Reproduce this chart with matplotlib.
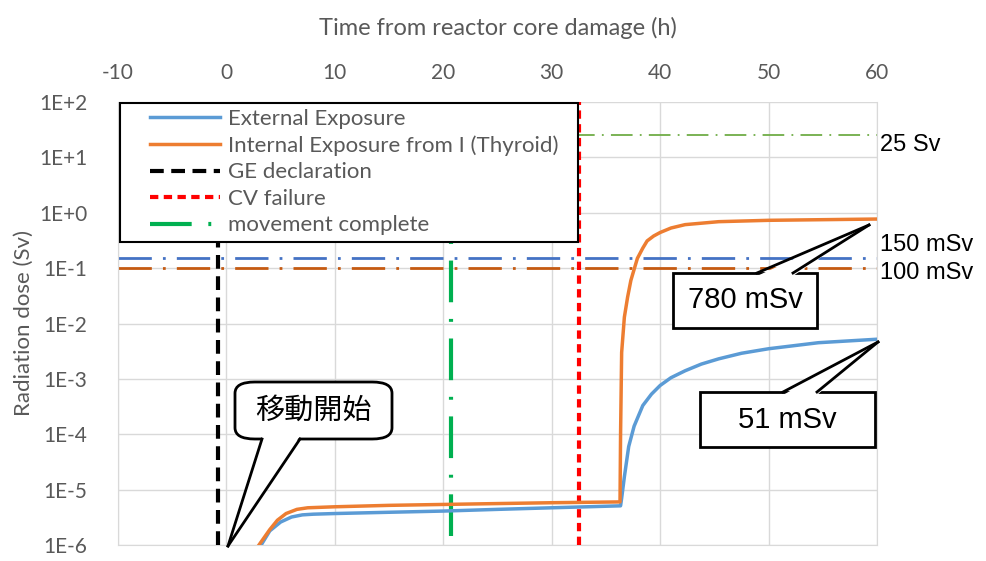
import matplotlib
matplotlib.use("Agg")
import matplotlib.pyplot as plt
from matplotlib.patches import FancyBboxPatch, Polygon, Rectangle
from matplotlib.lines import Line2D
import numpy as np

plt.rcParams["axes.unicode_minus"] = False

# data
t_ext = [3.2, 4, 5, 6, 7, 8, 10, 15, 20, 25, 30, 36.35, 36.45, 36.7, 37.1, 37.6, 38.4,
         39.2, 40, 41, 42.3, 43.8, 45.4, 47.5, 50, 54.6, 60]
dose_ext = [1e-6, 1.8e-6, 2.6e-6, 3.2e-6, 3.5e-6, 3.6e-6, 3.7e-6, 3.9e-6, 4.1e-6,
            4.4e-6, 4.7e-6, 5.1e-6, 7e-6, 1.7e-5, 6e-5, 1.4e-4, 3.3e-4, 5.3e-4, 7.6e-4,
            1.05e-3, 1.4e-3, 1.85e-3, 2.3e-3, 2.9e-3, 3.5e-3, 4.5e-3, 5.2e-3]

t_int = [3.0, 4, 4.7, 5.5, 6.5, 7.5, 10, 15, 20, 25, 30, 36.3, 36.35, 36.45, 36.7,
         37.0, 37.3, 37.9, 38.4, 38.8, 39.4, 40, 41, 42.3, 45.4, 50, 60]
dose_int = [1e-6, 1.9e-6, 2.8e-6, 3.7e-6, 4.4e-6, 4.7e-6, 4.9e-6, 5.2e-6, 5.4e-6,
            5.6e-6, 5.8e-6, 6.0e-6, 1e-4, 3e-3, 0.013, 0.03, 0.06, 0.15, 0.23, 0.31,
            0.38, 0.44, 0.53, 0.61, 0.69, 0.73, 0.77]

t_ge = -0.8
t_cv = 32.5
t_move = 20.7

limit_vals = [25, 0.15, 0.1]
limit_labels = ["25 Sv", "150 mSv", "100 mSv"]
limit_colors = ["#70ad47", "#4472c4", "#c55a11"]

gray = "#595959"
ui_font = ["Lato", "DejaVu Sans"]

W, H = 987, 561
fig = plt.figure(figsize=(W / 100, H / 100), dpi=100)
ax = fig.add_axes([118 / W, 1 - 545 / H, (877 - 118) / W, (545 - 102) / H])

def px(x, y):
    return (x / W, 1 - y / H)

ax.set_yscale("log")
ax.set_xlim(-10, 60)
ax.set_ylim(1e-6, 1e2)

l_ext, = ax.plot(t_ext, dose_ext, color="#5b9bd5", lw=2.5, label="External Exposure", zorder=4)
l_int, = ax.plot(t_int, dose_int, color="#ed7d31", lw=2.5,
                 label="Internal Exposure from I (Thyroid)", zorder=4)
l_ge = ax.axvline(t_ge, color="black", lw=3, ls=(0, (3.3, 1.8)), label="GE declaration", zorder=3)
l_cv = ax.axvline(t_cv, color="#ff0000", lw=3, ls=(0, (2, 1.3)), label="CV failure", zorder=3)
l_mv = ax.axvline(t_move, ymin=0.02, color="#00b050", lw=3, ls=(0, (10, 4, 0.7, 4)),
                  label="movement complete", zorder=3)

lw_lim = [1.3, 2, 2]
for v, c, lw in zip(limit_vals, limit_colors, lw_lim):
    ax.axhline(v, color=c, lw=lw, ls=(0, (12, 4, 1, 4)), zorder=2)

for v, lab, yy in zip(limit_vals, limit_labels, [145, 245, 273]):
    fig.text(880 / W, 1 - yy / H, lab, fontsize=17, family="Liberation Sans",
             va="center", ha="left")

ax.set_yticks([10.0 ** k for k in range(-6, 3)])
ax.set_yticklabels(["1E-6", "1E-5", "1E-4", "1E-3", "1E-2", "1E-1", "1E+0", "1E+1", "1E+2"])
ax.minorticks_off()
ax.set_xticks(range(-10, 61, 10))
ax.xaxis.tick_top()
ax.xaxis.set_label_position("top")
ax.tick_params(length=0, colors=gray, labelsize=15, pad=14)
ax.tick_params(axis="y", pad=22)
for lab in ax.get_xticklabels() + ax.get_yticklabels():
    lab.set_family(ui_font)
ax.set_xlabel("Time from reactor core damage (h)", fontsize=17, color=gray,
              family=ui_font, labelpad=20)
ax.set_ylabel("Radiation dose (Sv)", fontsize=16, color=gray, family=ui_font, labelpad=4)
ax.grid(True, color="#d9d9d9", lw=1)
ax.set_axisbelow(True)
for s in ax.spines.values():
    s.set_visible(False)
for side in ["left", "right", "bottom"]:
    ax.spines[side].set_visible(True)
    ax.spines[side].set_color("#d9d9d9")

# legend frame drawn by hand so the padding matches
frame = Rectangle(px(120, 242), (578 - 120) / W, (242 - 103) / H, transform=fig.transFigure,
                  fc="white", ec="black", lw=1.5, zorder=5)
fig.add_artist(frame)
leg = fig.legend(handles=[l_ext, l_int, l_ge, l_cv, l_mv], loc="upper left",
                 bbox_to_anchor=px(150, 109), bbox_transform=fig.transFigure,
                 borderaxespad=0, borderpad=0, frameon=False, handlelength=3.15,
                 handletextpad=0.35, labelspacing=0.29,
                 prop={"family": ui_font, "size": 16})
for txt in leg.get_texts():
    txt.set_color(gray)
leg.set_zorder(6)


def callout(box, base, tip, text, size, rounded=False, family="Liberation Sans"):
    x0, y0, x1, y1 = box
    if rounded:
        p = FancyBboxPatch(px(x0, y1), (x1 - x0) / W, (y1 - y0) / H,
                           boxstyle="round,pad=0,rounding_size=0.02",
                           transform=fig.transFigure, fc="white", ec="black", lw=2,
                           zorder=10)
    else:
        p = Rectangle(px(x0, y1), (x1 - x0) / W, (y1 - y0) / H,
                      transform=fig.transFigure, fc="white", ec="black", lw=2, zorder=10)
    fig.add_artist(p)
    by = base[2]
    inner = by - 3 if by == y1 else by + 3
    fill = Polygon([px(base[0], inner), px(base[1], inner), px(*tip)],
                   closed=True, transform=fig.transFigure, fc="white", ec="none",
                   zorder=11)
    fig.add_artist(fill)
    for bx in base[:2]:
        fig.add_artist(Line2D([bx / W, tip[0] / W], [1 - by / H, 1 - tip[1] / H],
                              transform=fig.transFigure, color="black", lw=2, zorder=12))
    fig.text((x0 + x1) / 2 / W, 1 - (y0 + y1) / 2 / H, text, fontsize=size,
             family=family, ha="center", va="center", zorder=13)


callout((673, 273, 817, 328), (757, 793, 273), (869, 225), "780 mSv", 21)
callout((700, 392, 875, 447), (783, 817, 392), (878, 342), "51 mSv", 21)
callout((235, 382, 392, 439), (262, 300, 439), (228, 546), "移動開始", 21, rounded=True,
        family=["Noto Sans CJK JP", "DejaVu Sans"])

fig.savefig("out.png", dpi=100)
